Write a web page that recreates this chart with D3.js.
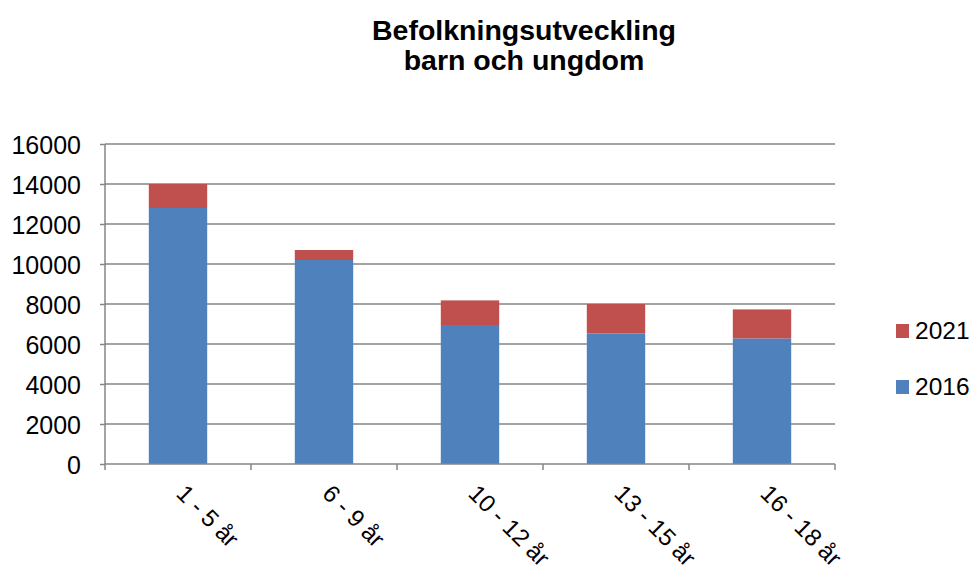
<!DOCTYPE html>
<html><head><meta charset="utf-8">
<script src="https://cdn.jsdelivr.net/npm/d3@7"></script>
<style>body{margin:0;background:#fff;}svg{display:block;font-family:"Liberation Sans",Arial,sans-serif;}</style>
</head><body>
<svg id="c" width="976" height="575"></svg>
<script>
const categories = ["1 - 5 år","6 - 9 år","10 - 12 år","13 - 15 år","16 - 18 år"];
const values2016 = [12800, 10200, 6950, 6530, 6280];
const values2021 = [1200, 500, 1230, 1470, 1450];
const yTicks = [0,2000,4000,6000,8000,10000,12000,14000,16000];
const seriesNames = ["2016","2021"];
const colors = {"2016":"#4F81BD","2021":"#C0504D"};

const svg = d3.select("#c");
const m = {left:105, right:835, top:144, bottom:464};
const x = d3.scaleBand().domain(categories).range([m.left,m.right]).paddingInner(0.6).paddingOuter(0.3);
const y = d3.scaleLinear().domain([0,16000]).range([m.bottom,m.top]);
const grey = "#868686";

// gridlines
svg.append("g").selectAll("line").data(yTicks.filter(d=>d>0)).join("line")
  .attr("x1",m.left).attr("x2",m.right).attr("y1",d=>y(d)).attr("y2",d=>y(d))
  .attr("stroke",grey).attr("stroke-width",1.5);

const table = categories.map((c,i)=>({cat:c,"2016":values2016[i],"2021":values2021[i]}));
const stack = d3.stack().keys(seriesNames)(table);
svg.append("g").selectAll("g").data(stack).join("g").attr("fill",d=>colors[d.key])
  .selectAll("rect").data(d=>d).join("rect")
  .attr("x",d=>x(d.data.cat)).attr("width",x.bandwidth())
  .attr("y",d=>y(d[1])).attr("height",d=>y(d[0])-y(d[1]));

// y axis
const ya = svg.append("g").attr("transform",`translate(${m.left},0)`)
  .call(d3.axisLeft(y).tickValues(yTicks).tickSize(5).tickPadding(19).tickFormat(d3.format("d")));
ya.select(".domain").attr("stroke",grey).attr("stroke-width",1.5).attr("d",`M-0,${m.top}V${m.bottom}`);
ya.selectAll(".tick line").attr("stroke",grey).attr("stroke-width",1.5);
ya.selectAll(".tick text").attr("font-size",25).attr("fill","#000").attr("font-family","Liberation Sans, Arial, sans-serif").attr("dy","0.36em");

// x axis
const boundaries = d3.range(categories.length+1).map(i=>m.left + i*x.step());
const xa = svg.append("g");
xa.append("line").attr("x1",m.left).attr("x2",m.right).attr("y1",m.bottom).attr("y2",m.bottom).attr("stroke",grey).attr("stroke-width",1.5);
xa.selectAll(".tk").data(boundaries).join("line").attr("class","tk")
  .attr("x1",d=>d).attr("x2",d=>d).attr("y1",m.bottom).attr("y2",m.bottom+6).attr("stroke",grey).attr("stroke-width",1.5);
xa.selectAll("text").data(categories).join("text")
  .attr("transform",d=>`translate(${x(d)+x.bandwidth()/2-3},${m.bottom+31}) rotate(45)`)
  .attr("font-size",24).attr("fill","#000").text(d=>d);

// title
svg.append("text").attr("x",524).attr("y",40).attr("text-anchor","middle").attr("font-weight","bold").attr("font-size",28.5).text("Befolkningsutveckling");
svg.append("text").attr("x",524).attr("y",70).attr("text-anchor","middle").attr("font-weight","bold").attr("font-size",28.5).text("barn och ungdom");

// legend
const leg = [{k:"2021",y:331},{k:"2016",y:387}];
const lg = svg.append("g").selectAll("g").data(leg).join("g").attr("transform",d=>`translate(896,${d.y})`);
lg.append("rect").attr("x",0).attr("y",-7).attr("width",13).attr("height",14).attr("fill",d=>colors[d.k]);
lg.append("text").attr("x",19).attr("y",8).attr("font-size",24.5).text(d=>d.k);
</script>
</body></html>
